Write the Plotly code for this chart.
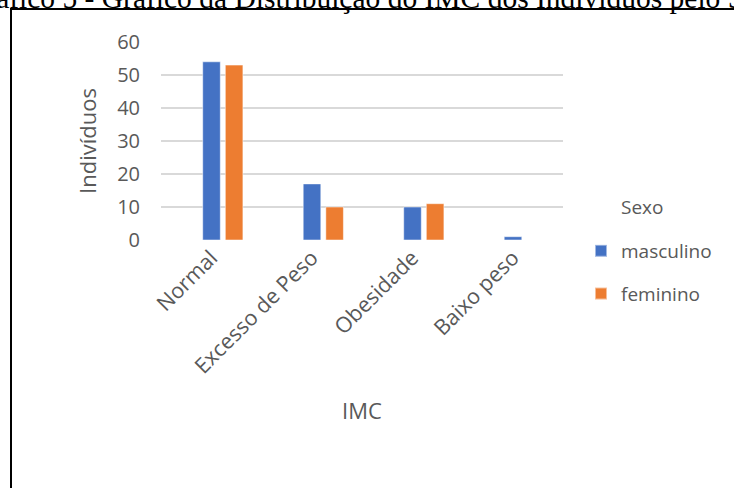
import plotly.graph_objects as go

categorias = ["Normal", "Excesso de Peso", "Obesidade", "Baixo peso"]
masculino = [54, 17, 10, 1]
feminino = [53, 10, 11, 0]
y_ticks = [0, 10, 20, 30, 40, 50, 60]

W, H = 734, 488
L, R, T, B = 161, 563, 42, 240

def px_x(p):
    return (p - L) / (R - L)

def px_y(p):
    return (B - p) / (B - T)

FONT = "Open Sans"
GRAY = "#595959"

fig = go.Figure()
fig.add_trace(go.Bar(x=categorias, y=masculino, name="masculino",
                     marker=dict(color="#4472C4", line=dict(color="rgba(255,255,255,0.5)", width=1)),
                     width=0.175, offset=-0.085, legendgroup="m"))
fig.add_trace(go.Bar(x=categorias, y=feminino, name="feminino",
                     marker=dict(color="#ED7D31", line=dict(color="rgba(255,255,255,0.5)", width=1)),
                     width=0.175, offset=0.14, legendgroup="f"))

fig.update_layout(
    width=W, height=H,
    margin=dict(l=L, r=W - R, t=T, b=H - B, autoexpand=False),
    paper_bgcolor="white", plot_bgcolor="white",
    font=dict(family=FONT, color=GRAY, size=20),
    barmode="group",
    showlegend=True,
    legend=dict(x=px_x(581), y=px_y(232), xanchor="left", yanchor="top",
                font=dict(size=19, color=GRAY, family=FONT),
                tracegroupgap=15, bgcolor="rgba(0,0,0,0)", itemsizing="constant"),
    xaxis=dict(type="category", showgrid=False, zeroline=False, showline=False,
               tickangle=-45, tickfont=dict(size=21.5, color=GRAY, family=FONT),
               ticks="", automargin=False,
               title=dict(text="IMC", font=dict(size=22, color=GRAY, family=FONT), standoff=25)),
    yaxis=dict(range=[0, 60], tickvals=y_ticks, showgrid=True, gridcolor="#D9D9D9", gridwidth=1.5,
               zeroline=False, showline=False, ticks="", ticklabelstandoff=20,
               tickfont=dict(size=20, color=GRAY, family=FONT), automargin=False,
               title=dict(text="Indivíduos", font=dict(size=22, color=GRAY, family=FONT), standoff=14)),
)

# Legend heading
fig.add_annotation(text="Sexo", xref="paper", yref="paper", x=px_x(619), y=px_y(207),
                   xanchor="left", yanchor="middle", showarrow=False,
                   font=dict(size=19, color=GRAY, family=FONT))

# Chart frame (partially cropped in the reference)
fig.add_shape(type="rect", xref="paper", yref="paper",
              x0=px_x(11), x1=px_x(760), y0=px_y(520), y1=px_y(9),
              line=dict(color="black", width=2), fillcolor="rgba(0,0,0,0)", layer="above")

# Caption cut by the top edge
fig.add_annotation(text="Gráfico 5 - Gráfico da Distribuição do IMC dos Indivíduos pelo Sexo",
                   xref="paper", yref="paper", x=px_x(-37), y=px_y(16),
                   xanchor="left", yanchor="bottom", showarrow=False,
                   font=dict(family="Liberation Serif", size=29.5, color="black"))

fig.write_html("out.html")
